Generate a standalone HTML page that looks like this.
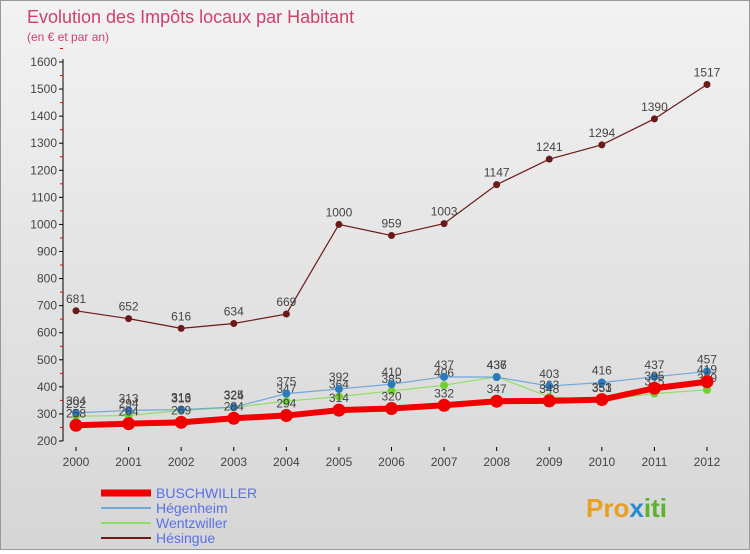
<!DOCTYPE html>
<html><head><meta charset="utf-8"><style>
body{margin:0;background:#fff;font-family:"Liberation Sans",sans-serif}
#c{position:relative;width:748px;height:548px;border:1px solid #999;background:linear-gradient(#f2f2f2,#d6d6d6)}
</style></head><body>
<div id="c">
<svg id="s" width="748" height="548" xmlns="http://www.w3.org/2000/svg">
<text x="26" y="22" font-size="18" fill="#d0406a" font-family="Liberation Sans">Evolution des Impôts locaux par Habitant</text>
<text x="26" y="40" font-size="12" fill="#d0406a" font-family="Liberation Sans">(en € et par an)</text>
<g id="axes"></g><g id="series"></g><g id="legend"></g>
<text x="585" y="516" font-size="26" font-weight="bold" fill="#e8a020" font-family="Liberation Sans">Pro<tspan fill="#2a8ad0">x</tspan><tspan fill="#60b030">iti</tspan></text>
</svg></div>
<script>
const years=[2000,2001,2002,2003,2004,2005,2006,2007,2008,2009,2010,2011,2012];
const yTicks=[200,300,400,500,600,700,800,900,1000,1100,1200,1300,1400,1500,1600];
const buschwiller=[258,264,269,284,294,314,320,332,347,348,353,395,419];
const hegenheim=[304,313,316,325,375,392,410,437,436,403,416,437,457];
const wentzwiller=[292,294,313,324,347,364,385,406,437,363,351,375,389];
const hesingue=[681,652,616,634,669,1000,959,1003,1147,1241,1294,1390,1517];
const NS="http://www.w3.org/2000/svg";
const x=i=>75+i*(631/12);
const y=v=>440-(v-200)*(379/1400);
function mk(t,a,p){const e=document.createElementNS(NS,t);for(const k in a)e.setAttribute(k,a[k]);p.appendChild(e);return e;}
const ax=document.getElementById('axes');
const yl=mk('line',{x1:62,y1:58,x2:62,y2:440,stroke:'#000'},ax);


yTicks.forEach(v=>{
  mk('line',{x1:58,y1:y(v),x2:62,y2:y(v),stroke:'#000'},ax);
  mk('line',{x1:59,y1:y(v+50),x2:62,y2:y(v+50),stroke:'#e00'},ax);
  const t=mk('text',{x:56,y:y(v)+4,'font-size':12,'text-anchor':'end',fill:'#444','font-family':'Liberation Sans'},ax);
  t.textContent=v;
  
  
});
years.forEach((yr,i)=>{
  mk('line',{x1:x(i),y1:446,x2:x(i),y2:450,stroke:'#000'},ax);
  const t=mk('text',{x:x(i),y:465,'font-size':12,'text-anchor':'middle',fill:'#444','font-family':'Liberation Sans'},ax);
  t.textContent=yr;
  
  
});
const sg=document.getElementById('series');
function series(name,data,col,w,r,dot,labels){
  const g=mk('g',{},sg);
  
  
  const l=mk('polyline',{points:data.map((v,i)=>x(i)+','+y(v)).join(' '),fill:'none',stroke:col,'stroke-width':w},g);
  
  
  data.forEach((v,i)=>{
    const c=mk('circle',{cx:x(i),cy:y(v),r:r,fill:dot},g);
    
    
    if(labels){const t=mk('text',{x:x(i),y:y(v)-8,'font-size':12,'text-anchor':'middle',fill:'#444','font-family':'Liberation Sans'},g);
    t.textContent=v;
    
    }
  });
}
series('hesingue',hesingue,'#6b1a1a',1.2,3.5,'#6b1a1a',true);
series('wentzwiller',wentzwiller,'#90e060',1.2,4,'#70d030',true);
series('hegenheim',hegenheim,'#70a8d8',1.2,4,'#2a7ac0',true);
series('buschwiller',buschwiller,'#f00000',6,6.5,'#f00000',true);
const lg=document.getElementById('legend');
[['BUSCHWILLER','#f00000',7],['Hégenheim','#70a8d8',2],['Wentzwiller','#90e060',2],['Hésingue','#6b1a1a',2]].forEach((d,i)=>{
  const yy=492+i*15;
  mk('line',{x1:100,y1:yy,x2:150,y2:yy,stroke:d[1],'stroke-width':d[2]},lg);
  const t=mk('text',{x:155,y:yy+5,'font-size':14,fill:'#5a70e8','font-family':'Liberation Sans'},lg);
  t.textContent=d[0];
  
  
});
</script>
</body></html>
